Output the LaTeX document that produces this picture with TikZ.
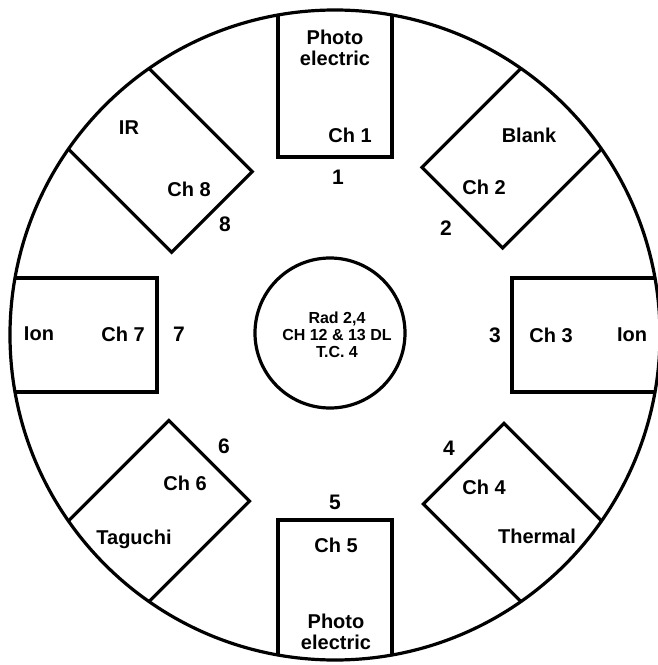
\documentclass[tikz,border=0pt]{standalone}
\usepackage{fontspec}
\setmainfont{Liberation Sans}
\usetikzlibrary{positioning}
\begin{document}
\begin{tikzpicture}[
   x=0.5pt, y=0.5pt,
   rim/.style={line width=1.6pt},
   slot/.style={line width=1.6pt, line join=miter},
   lbl/.style={font=\bfseries\fontsize{10}{10.5}\selectfont, inner sep=0pt, align=center},
   num/.style={font=\bfseries\fontsize{10.5}{12}\selectfont, inner sep=0pt},
   hubtxt/.style={font=\bfseries\fontsize{8}{8.5}\selectfont, inner sep=0pt, align=center}]
  \useasboundingbox (-335,-330) rectangle (323,335);
  % carousel rim and centre hub
  \draw[rim] (0,0) circle (325);
  \draw[rim] (-5,2) circle (75);
  \node[hubtxt] (hub) at (2,0) {Rad 2,4\\CH 12 \& 13 DL\\T.C. 4};
  % sensor slots, one per position
  \foreach \a/\d in {90/178,45/180,0/177,-45/182,-90/185,-135/178,180/178,135/174}
    \draw[slot, rotate=\a] (320,57) -- (\d,57) -- (\d,-57) -- (320,-57);
  % slot 1
  \node[lbl] (type1) at (0,287) {Photo\\electric};
  \node[lbl] (ch1) at (15,200) {Ch 1};
  \node[num] (n1) at (3,158) {1};
  % slot 2
  \node[lbl] (type2) at (194,200) {Blank};
  \node[lbl] (ch2) at (149,148) {Ch 2};
  \node[num] (n2) at (111,107) {2};
  % slot 3
  \node[lbl] (type3) at (297,0) {Ion};
  \node[lbl] (ch3) at (216,0) {Ch 3};
  \node[num] (n3) at (160,0) {3};
  % slot 4
  \node[lbl] (type4) at (202,-201) {Thermal};
  \node[lbl] (ch4) at (149,-152) {Ch 4};
  \node[num] (n4) at (114,-113) {4};
  % slot 5
  \node[lbl] (type5) at (1,-297) {Photo\\electric};
  \node[lbl] (ch5) at (1,-210) {Ch 5};
  \node[num] (n5) at (0,-167) {5};
  % slot 6
  \node[lbl] (type6) at (-201,-204) {Taguchi};
  \node[lbl] (ch6) at (-150,-148) {Ch 6};
  \node[num] (n6) at (-111,-111) {6};
  % slot 7
  \node[lbl] (type7) at (-296,1) {Ion};
  \node[lbl] (ch7) at (-212,1) {Ch 7};
  \node[num] (n7) at (-156,1) {7};
  % slot 8
  \node[lbl] (type8) at (-206,207) {IR};
  \node[lbl] (ch8) at (-146,146) {Ch 8};
  \node[num] (n8) at (-110,111) {8};
\end{tikzpicture}
\end{document}
